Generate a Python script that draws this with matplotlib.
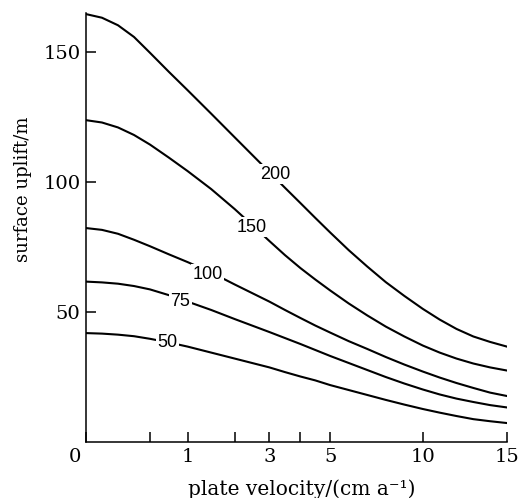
import numpy as np
import matplotlib
matplotlib.use("Agg")
import matplotlib.pyplot as plt

# plate velocity (cm/a) and surface uplift (m) for each curve
velocity = [0, 0.125, 0.25, 0.375, 0.5, 0.75, 1, 1.5, 2, 2.5, 3, 3.5, 4, 4.5, 5,
            6, 7, 8, 9, 10, 11, 12, 13, 14, 15]
uplift_200 = [164.6, 163.2, 160.3, 155.8, 149.7, 142.4, 135.3, 126.3, 117.2, 110.5,
              103.8, 97.8, 91.9, 86.2, 80.6, 73.8, 67.5, 61.5, 56.2, 51.2,
              47.1, 43.5, 40.6, 38.5, 36.7]
uplift_150 = [123.8, 122.9, 121.0, 118.1, 114.4, 109.4, 104.2, 97.3, 89.6, 83.5,
              77.3, 71.9, 66.9, 62.5, 58.3, 53.3, 48.7, 44.4, 40.6, 37.1,
              34.4, 32.1, 30.2, 28.7, 27.5]
uplift_100 = [82.3, 81.6, 80.1, 77.8, 75.3, 72.2, 69.2, 65.2, 60.6, 57.3,
              54.0, 50.8, 47.7, 44.8, 42.1, 38.8, 35.8, 32.7, 29.8, 27.1,
              24.8, 22.7, 20.8, 19.0, 17.7]
uplift_75 = [61.7, 61.4, 60.9, 60.0, 58.7, 56.5, 54.0, 50.8, 47.3, 44.8,
             42.3, 40.0, 37.7, 35.4, 33.1, 30.4, 27.7, 25.0, 22.5, 20.2,
             18.3, 16.7, 15.4, 14.2, 13.3]
uplift_50 = [41.9, 41.7, 41.3, 40.7, 39.7, 38.3, 36.7, 34.4, 32.1, 30.4,
             28.7, 26.9, 25.2, 23.7, 21.9, 20.0, 18.1, 16.2, 14.4, 12.7,
             11.3, 10.0, 8.8, 8.0, 7.3]
curve_names = ["200", "150", "100", "75", "50"]

x_major = [0, 1, 3, 5, 10, 15]
x_minor = [0.5, 2, 4]
y_major = [50, 100, 150]

# the velocity axis of the original is stretched by hand, roughly like a square root
anchor_v = [0, 0.5, 1, 2, 3, 4, 5, 10, 15]
anchor_p = [0, 64, 101.6, 148.6, 183.3, 214.3, 244, 336.6, 420.6]


def fwd(v):
    return np.interp(v, anchor_v, anchor_p)


def inv(p):
    return np.interp(p, anchor_p, anchor_v)


fig = plt.figure(figsize=(5.21, 4.98), dpi=100)
ax = fig.add_axes([0.165, 0.1124, 0.808, 0.8614])
ax.set_xscale("function", functions=(fwd, inv))

curves = [uplift_200, uplift_150, uplift_100, uplift_75, uplift_50]
for ys in curves:
    ax.plot(velocity, ys, color="black", lw=1.5, solid_joinstyle="round")

# inline curve labels
label_pos = {"200": (3.18, 103), "150": (2.5, 82.7), "100": (1.43, 64.6),
             "75": (0.9, 54.2), "50": (0.73, 38.1)}
for name in curve_names:
    lx, ly = label_pos[name]
    ax.text(lx, ly, name, ha="center", va="center", fontsize=13,
            family="Liberation Sans", zorder=5,
            bbox=dict(fc="white", ec="none", pad=1.0))

ax.set_xlim(0, 15)
ax.set_ylim(0, 165)
ax.spines["top"].set_visible(False)
ax.spines["right"].set_visible(False)
for s in ("left", "bottom"):
    ax.spines[s].set_linewidth(1.1)

ax.set_xticks(x_major)
ax.set_xticklabels([""] + [str(v) for v in x_major[1:]])
ax.set_xticks(x_minor, minor=True)
ax.set_yticks(y_major)
ax.tick_params(which="both", direction="in", length=7, width=1.1,
               labelsize=14, pad=4)
for lab in ax.get_xticklabels() + ax.get_yticklabels():
    lab.set_family("DejaVu Serif")
ax.annotate("0", xy=(0, 0), xytext=(-8, -4), textcoords="offset points",
            ha="center", va="top", fontsize=14, family="DejaVu Serif",
            annotation_clip=False)

ax.set_xlabel("plate velocity/(cm a⁻¹)", fontsize=14.5, family="DejaVu Serif")
ax.set_ylabel("surface uplift/m", fontsize=13, family="DejaVu Serif")
ax.xaxis.set_label_coords(0.513, -0.086)
ax.yaxis.set_label_coords(-0.128, 0.59)

fig.savefig("out.png", dpi=100)
